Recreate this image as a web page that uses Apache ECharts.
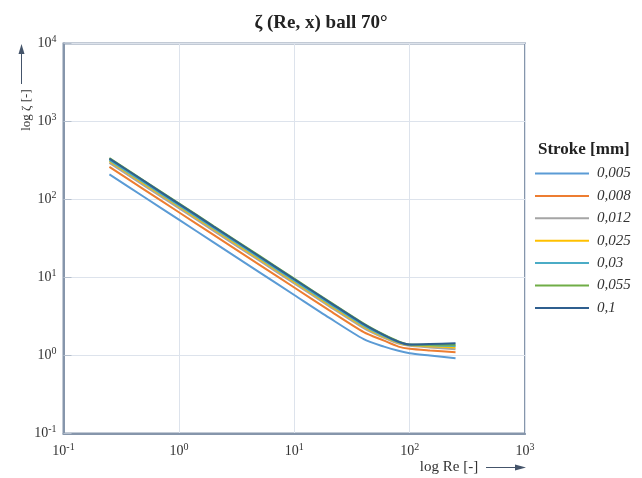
<!DOCTYPE html>
<html>
<head>
<meta charset="utf-8">
<script src="https://cdn.jsdelivr.net/npm/echarts@6/dist/echarts.min.js"></script>
<style>
  html, body { margin: 0; padding: 0; background: #ffffff; }
  #chart { width: 642px; height: 478px; }
</style>
</head>
<body>
<div id="chart"></div>
<script>
// Reynolds numbers at which the loss coefficient was evaluated
const reynolds = [0.25, 0.5, 1, 2, 5, 10, 20, 40, 60, 80, 100, 150, 250];

// Stroke values [mm] shown in the legend
const strokes = ['0,005', '0,008', '0,012', '0,025', '0,03', '0,055', '0,1'];

// Loss coefficient ζ for each stroke
const zeta_0005 = [210, 107.6, 55.1, 28.2, 11.65, 5.97, 3.06, 1.62, 1.3, 1.15, 1.07, 1.0, 0.92];
const zeta_0008 = [262, 134, 68.7, 35.2, 14.5, 7.45, 3.82, 2.0, 1.55, 1.3, 1.22, 1.16, 1.10];
const zeta_0012 = [295, 151, 77.4, 39.6, 16.4, 8.4, 4.3, 2.25, 1.68, 1.42, 1.33, 1.27, 1.2];
const zeta_0025 = [310, 158.8, 81.3, 41.7, 17.2, 8.8, 4.5, 2.35, 1.73, 1.46, 1.36, 1.31, 1.27];
const zeta_003  = [320, 164, 84, 43, 17.8, 9.1, 4.66, 2.42, 1.77, 1.48, 1.37, 1.35, 1.32];
const zeta_0055 = [340, 174, 89.2, 45.7, 18.9, 9.65, 4.95, 2.57, 1.85, 1.52, 1.38, 1.37, 1.37];
const zeta_01   = [335, 171.6, 87.9, 45.0, 18.6, 9.5, 4.88, 2.52, 1.82, 1.5, 1.38, 1.4, 1.44];

const seriesValues = [zeta_0005, zeta_0008, zeta_0012, zeta_0025, zeta_003, zeta_0055, zeta_01];
const seriesColors = ['#5b9bd5', '#ed7d31', '#a5a5a5', '#ffc000', '#4bacc6', '#70ad47', '#2f5f8f'];

const SERIF = '"Liberation Serif", "DejaVu Serif", serif';
const AXIS_COLOR = '#8696ab';

// "10" with the decade exponent as a superscript
function powerLabel(value) {
  const exp = Math.round(Math.log10(value));
  return '{b|10}{s|' + (exp < 0 ? '-' + Math.abs(exp) : exp) + '}';
}
const powerRich = {
  b: { fontFamily: SERIF, fontSize: 14, color: '#333333' },
  s: { fontFamily: SERIF, fontSize: 10, color: '#333333', padding: [0, 0, 8, 0] }
};

const chart = echarts.init(document.getElementById('chart'), null, { renderer: 'canvas' });

const series = strokes.map(function (name, i) {
  return {
    name: name,
    type: 'line',
    data: reynolds.map(function (re, j) { return [re, seriesValues[i][j]]; }),
    symbol: 'none',
    smooth: 0.25,
    lineStyle: { width: 2, color: seriesColors[i] },
    itemStyle: { color: seriesColors[i] },
    z: 2 + i
  };
});

chart.setOption({
  animation: false,
  backgroundColor: '#ffffff',
  title: {
    text: 'ζ (Re, x) ball 70°',
    left: 'center',
    top: 9,
    textStyle: { fontFamily: SERIF, fontWeight: 'bold', fontSize: 19, color: '#222222' }
  },
  grid: {
    left: 63.5, right: 117, top: 43.5, bottom: 44.5,
    show: true, borderColor: AXIS_COLOR, borderWidth: 2, backgroundColor: 'transparent'
  },
  legend: {
    orient: 'vertical',
    left: 534,
    top: 166,
    padding: 0,
    itemWidth: 54,
    itemHeight: 14,
    itemGap: 7.4,
    data: strokes,
    // only the line sample is shown, no marker on it
    itemStyle: { opacity: 0 },
    textStyle: { fontFamily: SERIF, fontStyle: 'italic', fontSize: 15, color: '#333333', padding: [0, 0, 0, 3] }
  },
  xAxis: {
    type: 'log',
    logBase: 10,
    min: 0.1,
    max: 1000,
    axisLine: { show: true, onZero: false, lineStyle: { color: AXIS_COLOR, width: 2 } },
    axisTick: { show: false },
    splitLine: { show: true, lineStyle: { color: '#dde3ec', width: 1 } },
    axisLabel: { formatter: powerLabel, rich: powerRich, margin: 9 }
  },
  yAxis: {
    type: 'log',
    logBase: 10,
    min: 0.1,
    max: 10000,
    axisLine: { show: true, onZero: false, lineStyle: { color: AXIS_COLOR, width: 2 } },
    axisTick: { show: true, inside: true, length: 8, lineStyle: { color: '#b4bfcd', width: 1 } },
    splitLine: { show: true, lineStyle: { color: '#dde3ec', width: 1 } },
    axisLabel: { formatter: powerLabel, rich: powerRich, margin: 7 }
  },
  graphic: [
    // legend heading
    {
      type: 'text', left: 538, top: 141,
      style: { text: 'Stroke [mm]', font: 'bold 17px ' + SERIF, fill: '#222222' }
    },
    // y-axis name with upward arrow
    {
      type: 'text', x: 27, y: 110, rotation: Math.PI / 2,
      style: { text: 'log ζ [-]', font: '13px ' + SERIF, fill: '#333333', align: 'center', verticalAlign: 'middle' }
    },
    {
      type: 'line', shape: { x1: 21.5, y1: 84, x2: 21.5, y2: 52 },
      style: { stroke: '#44546a', lineWidth: 1 }
    },
    {
      type: 'polygon', shape: { points: [[21.5, 44], [18.5, 54], [24.5, 54]] },
      style: { fill: '#44546a' }
    },
    // x-axis name with rightward arrow
    {
      type: 'text', x: 449, y: 467,
      style: { text: 'log Re [-]', font: '15px ' + SERIF, fill: '#333333', align: 'center', verticalAlign: 'middle' }
    },
    {
      type: 'line', shape: { x1: 486, y1: 467.5, x2: 517, y2: 467.5 },
      style: { stroke: '#44546a', lineWidth: 1 }
    },
    {
      type: 'polygon', shape: { points: [[526, 467.5], [515, 464.5], [515, 470.5]] },
      style: { fill: '#44546a' }
    }
  ],
  series: series
});
</script>
</body>
</html>
